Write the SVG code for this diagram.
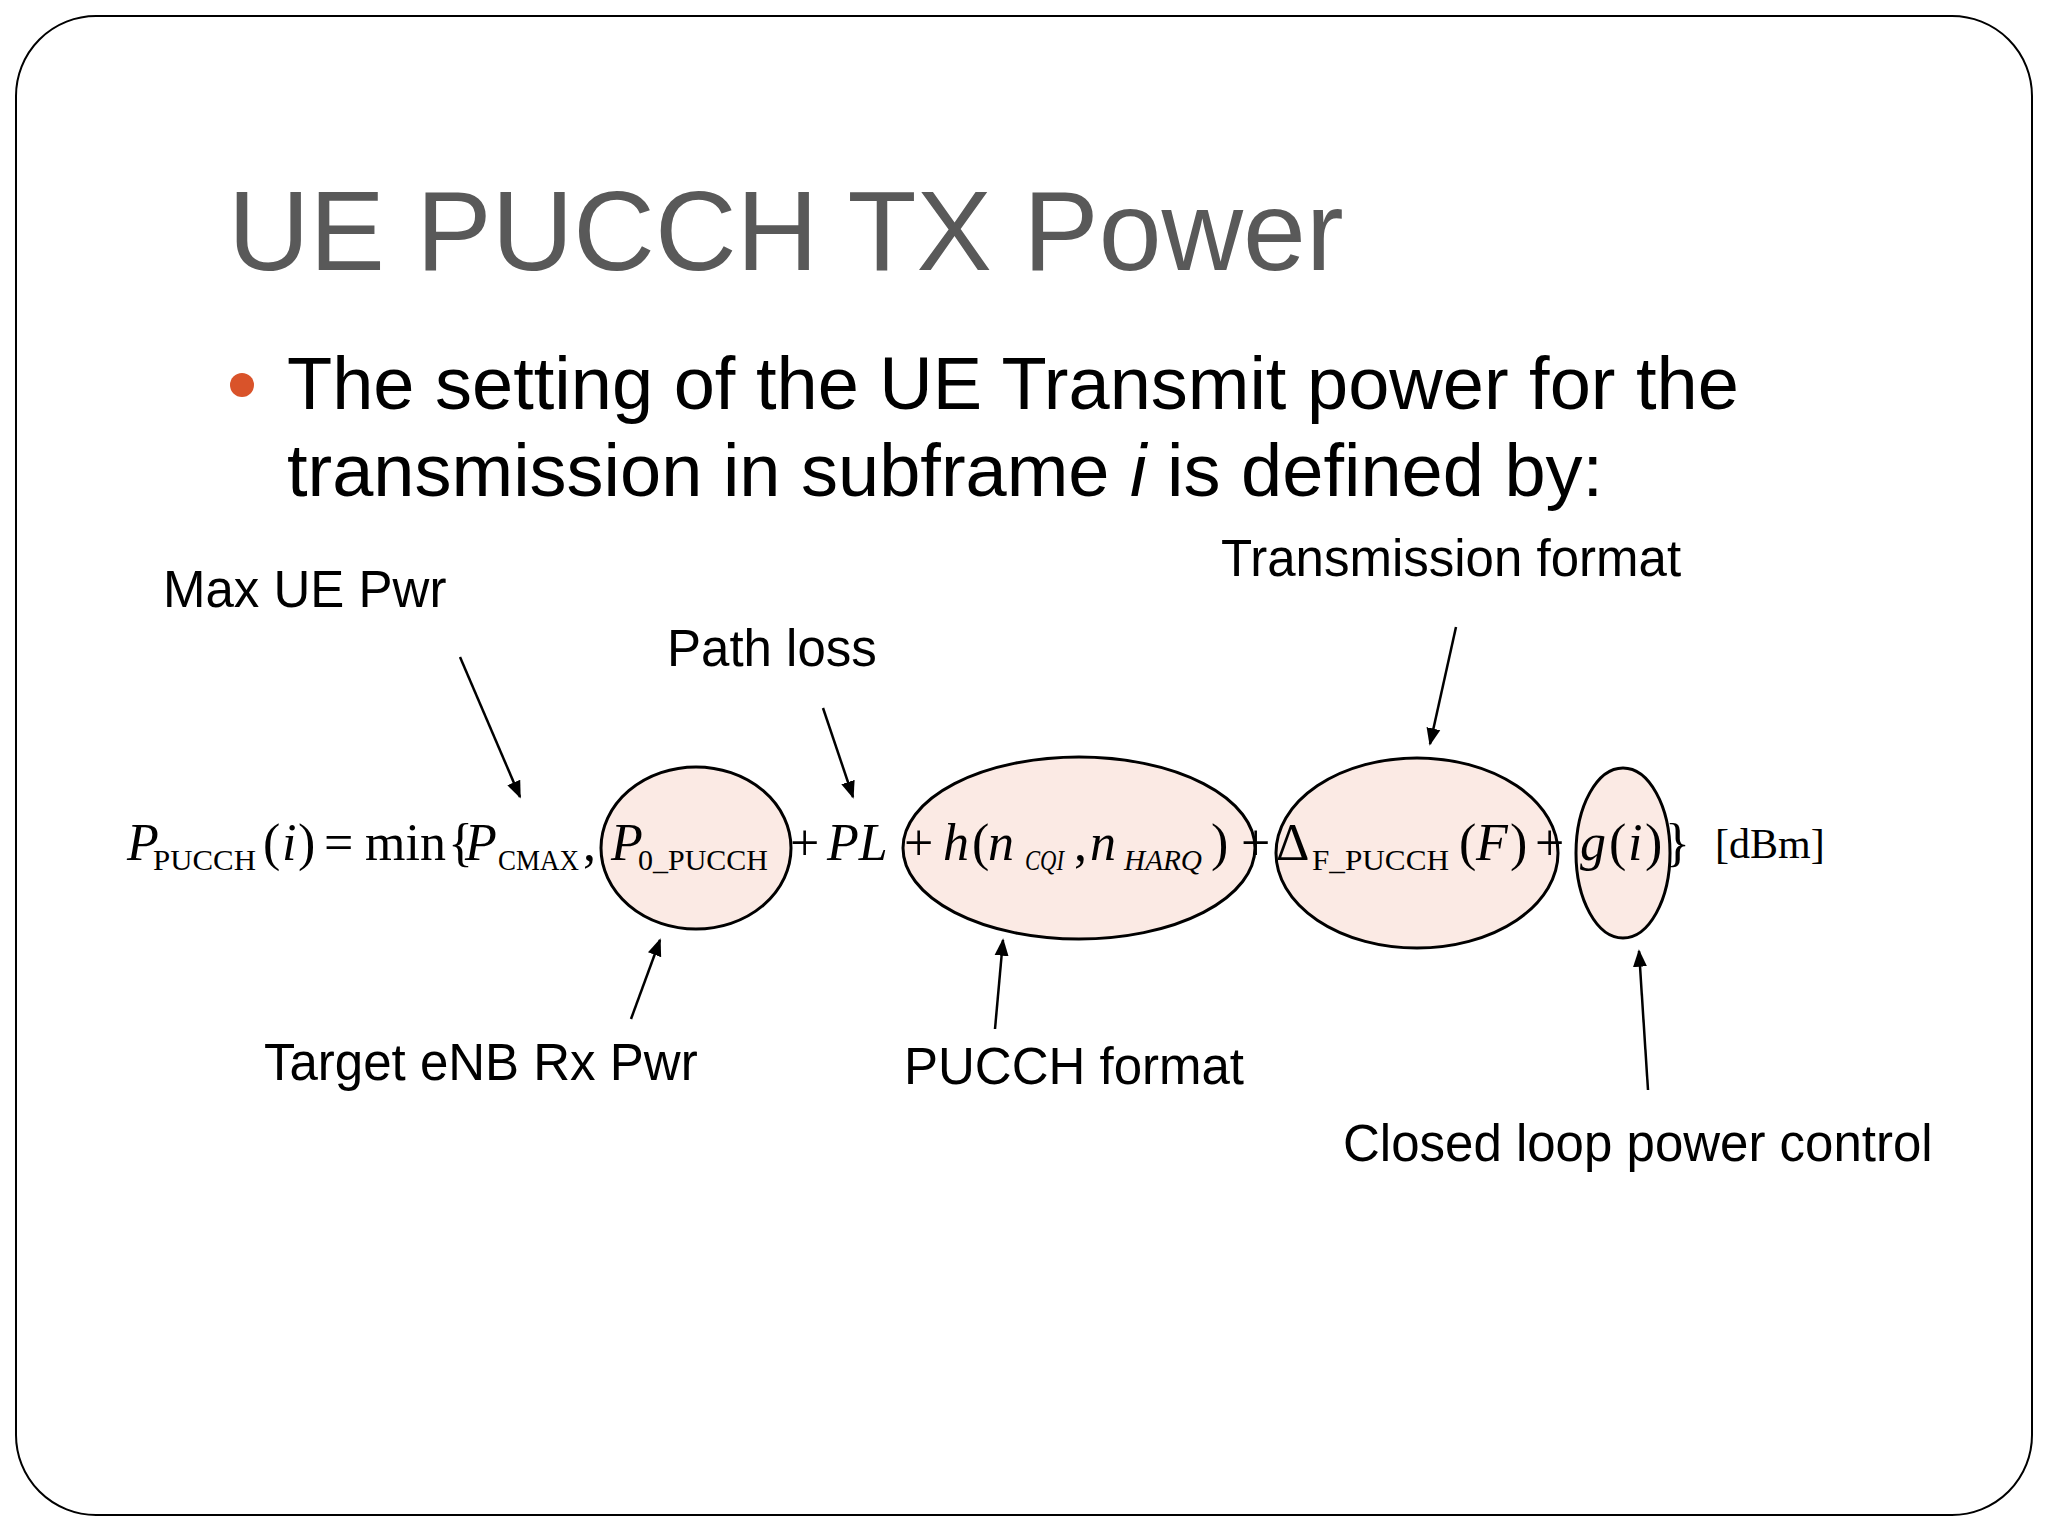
<svg xmlns="http://www.w3.org/2000/svg" width="2048" height="1536" viewBox="0 0 2048 1536">
<defs>
<marker id="ah" viewBox="0 0 10 10" refX="9" refY="5" markerWidth="7" markerHeight="7" orient="auto"><path d="M0,1 L10,5 L0,9 z" fill="#000"/></marker>
<style>
.lbl{font-family:"Liberation Sans",Arial,sans-serif;font-size:51px;fill:#000}
.m{font-family:"Liberation Serif","Times New Roman",serif;font-size:52px;fill:#000}
.i{font-style:italic}
.s{font-family:"Liberation Serif","Times New Roman",serif;font-size:30px;fill:#000}
.ell{fill:#fbeae4;stroke:#000;stroke-width:3}
.arr{stroke:#000;stroke-width:2.5;fill:none;marker-end:url(#ah)}
</style>
</defs>
<rect x="0" y="0" width="2048" height="1536" fill="#fff"/>
<rect x="16" y="16" width="2016" height="1499" rx="80" fill="#fff" stroke="#000" stroke-width="2"/>
<text x="228" y="270" font-family="Liberation Sans,Arial,sans-serif" font-size="113" fill="#595959">UE PUCCH TX Power</text>
<circle cx="242" cy="385" r="12" fill="#d9532a"/>
<text font-family="Liberation Sans,Arial,sans-serif" font-size="74" fill="#000"><tspan x="287" y="409">The setting of the UE Transmit power for the</tspan><tspan x="287" y="496">transmission in subframe <tspan font-style="italic">i</tspan> is defined by:</tspan></text>
<g id="ellipses">
<ellipse id="e1" class="ell" cx="696" cy="848" rx="95" ry="81"/>
<ellipse id="e2" class="ell" cx="1079" cy="848" rx="176" ry="91"/>
<ellipse id="e3" class="ell" cx="1417" cy="853" rx="141" ry="95"/>
<ellipse id="e4" class="ell" cx="1623" cy="853" rx="47" ry="85"/>
</g>
<g id="formula">
<text class="m i" x="127" y="860">P</text>
<text class="s" x="153" y="870" textLength="103" lengthAdjust="spacingAndGlyphs">PUCCH</text>
<text class="m" x="263" y="860">(</text><text class="m i" x="282" y="860">i</text><text class="m" x="298" y="860">)</text>
<text class="m" x="324" y="860">=</text>
<text class="m" x="365" y="860">min</text>
<text class="m" x="448" y="860">{</text>
<text class="m i" x="465" y="860">P</text>
<text class="s" x="498" y="870" textLength="81" lengthAdjust="spacingAndGlyphs">CMAX</text>
<text class="m" x="583" y="860">,</text>
<text class="m i" x="611" y="860">P</text>
<text class="s" x="638" y="870" textLength="130" lengthAdjust="spacingAndGlyphs">0_PUCCH</text>
<text class="m" x="790" y="860">+</text>
<text class="m i" x="827" y="860">PL</text>
<text class="m" x="904" y="860">+</text>
<text class="m i" x="943" y="860">h</text>
<text class="m" x="972" y="860">(</text>
<text class="m i" x="988" y="860">n</text>
<text class="s i" x="1025" y="870" textLength="39" lengthAdjust="spacingAndGlyphs">CQI</text>
<text class="m" x="1074" y="860">,</text>
<text class="m i" x="1090" y="860">n</text>
<text class="s i" x="1124" y="870" textLength="78" lengthAdjust="spacingAndGlyphs">HARQ</text>
<text class="m" x="1211" y="860">)</text>
<text class="m" x="1241" y="860">+</text>
<text class="m" x="1276" y="860">Δ</text>
<text class="s" x="1312" y="870" textLength="137" lengthAdjust="spacingAndGlyphs">F_PUCCH</text>
<text class="m" x="1459" y="860">(</text><text class="m i" x="1476" y="860">F</text><text class="m" x="1510" y="860">)</text>
<text class="m" x="1535" y="860">+</text>
<text class="m i" x="1580" y="860">g</text>
<text class="m" x="1609" y="860">(</text><text class="m i" x="1628" y="860">i</text><text class="m" x="1645" y="860">)</text>
<text class="m" x="1665" y="860">}</text>
<text x="1715" y="858" font-family="Liberation Serif,Times New Roman,serif" font-size="42">[dBm]</text>
</g>
<g id="labels">
<text id="l1" class="lbl" x="163" y="607">Max UE Pwr</text>
<text id="l2" class="lbl" x="667" y="666">Path loss</text>
<text id="l3" class="lbl" x="1221" y="576">Transmission format</text>
<text id="l4" class="lbl" x="264" y="1080">Target eNB Rx Pwr</text>
<text id="l5" class="lbl" x="904" y="1084">PUCCH format</text>
<text id="l6" class="lbl" x="1343" y="1161">Closed loop power control</text>
</g>
<g id="connectors">
<line class="arr" x1="460" y1="657" x2="520" y2="797"/>
<line class="arr" x1="823" y1="708" x2="853" y2="797"/>
<line class="arr" x1="1456" y1="627" x2="1430" y2="744"/>
<line class="arr" x1="631" y1="1019" x2="660" y2="940"/>
<line class="arr" x1="995" y1="1029" x2="1003" y2="940"/>
<line class="arr" x1="1648" y1="1090" x2="1639" y2="951"/>
</g>
</svg>
